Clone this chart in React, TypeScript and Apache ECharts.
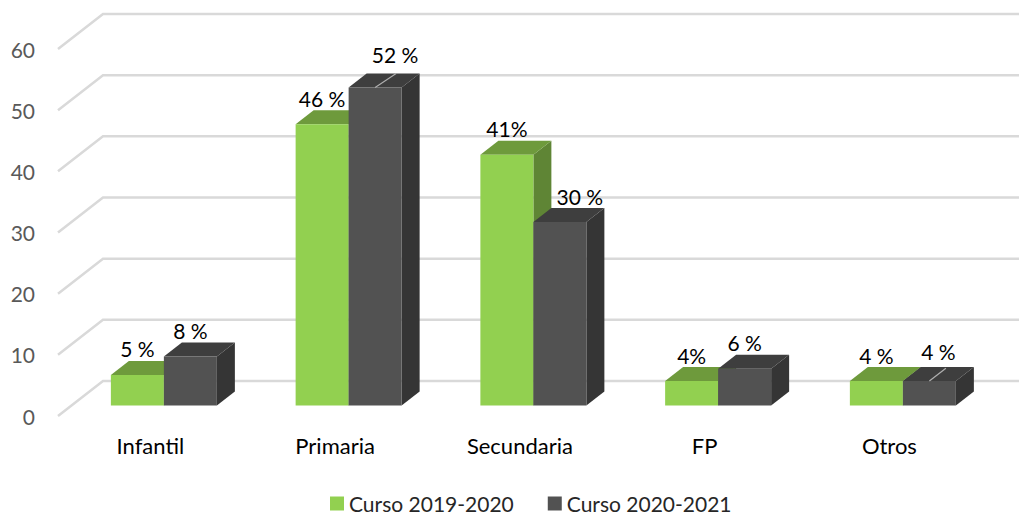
import React, { useEffect, useRef } from "react";
import * as echarts from "echarts";

const categories = ["Infantil", "Primaria", "Secundaria", "FP", "Otros"];
const curso1920 = [5, 46, 41, 4, 4];
const curso2021 = [8, 52, 30, 6, 4];
const labels1920 = ["5 %", "46 %", "41%", "4%", "4 %"];
const labels2021 = ["8 %", "52 %", "30 %", "6 %", "4 %"];
const ticks = [0, 10, 20, 30, 40, 50, 60];
const seriesNames = ["Curso 2019-2020", "Curso 2020-2021"];

const FONT = "Lato, 'Open Sans', sans-serif";
const WALL_DX = 45;
const WALL_DY = -35;
const BAR_DX = 18;
const BAR_DY = -14;
const BAR_OFF_X = 13.5;
const BAR_OFF_Y = -10.5;
const BAR_W = 53;

const poly = (points: number[][], fill: string) => ({
  type: "polygon",
  shape: { points },
  style: { fill, stroke: null },
});

function barRender(
  colors: { front: string; top: string; side: string },
  texts: string[],
  side: number,
  labelOffset: Record<number, [number, number]>,
  leaders: Record<number, [number, number]>,
) {
  return (_: any, api: any) => {
    const i = api.value(0);
    const v = api.value(1);
    const base = api.coord([i, 0]);
    const top = api.coord([i, v]);
    const x0 = base[0] + BAR_OFF_X + (side === 0 ? -BAR_W : 0);
    const x1 = x0 + BAR_W;
    const y0 = base[1] + BAR_OFF_Y;
    const y1 = top[1] + BAR_OFF_Y;
    const off = labelOffset[i] || [0, -26];
    const children: any[] = [
      poly([[x1, y0], [x1 + BAR_DX, y0 + BAR_DY], [x1 + BAR_DX, y1 + BAR_DY], [x1, y1]], colors.side),
      poly([[x0, y1], [x0 + BAR_DX, y1 + BAR_DY], [x1 + BAR_DX, y1 + BAR_DY], [x1, y1]], colors.top),
      poly([[x0, y0], [x1, y0], [x1, y1], [x0, y1]], colors.front),
    ];
    const cx = (x0 + x1) / 2;
    if (leaders[i]) {
      children.push({
        type: "line",
        shape: { x1: cx, y1, x2: cx + leaders[i][0], y2: y1 + leaders[i][1] },
        style: { stroke: "#B0B0B0", lineWidth: 1.2 },
      });
    }
    children.push({
      type: "text",
      x: cx + off[0],
      y: y1 + off[1],
      style: {
        text: texts[i],
        fill: "#000000",
        font: `21px ${FONT}`,
        align: "center",
        verticalAlign: "middle",
      },
    });
    return { type: "group", children };
  };
}

export default function App() {
  const ref = useRef<HTMLDivElement>(null);

  useEffect(() => {
    document.body.style.margin = "0";
    const chart = echarts.init(ref.current!, undefined, { renderer: "svg" });
    chart.setOption({
      animation: false,
      backgroundColor: "#ffffff",
      grid: { left: 58, top: 49, width: 923.75, height: 367 },
      xAxis: {
        type: "category",
        data: categories,
        axisLine: { show: false },
        axisTick: { show: false },
        axisLabel: { color: "#000000", fontFamily: FONT, fontSize: 22, margin: 18, interval: 0 },
      },
      yAxis: {
        type: "value",
        min: 0,
        max: 60,
        interval: 10,
        axisLine: { show: false },
        axisTick: { show: false },
        splitLine: { show: false },
        axisLabel: { color: "#595959", fontFamily: FONT, fontSize: 21, margin: 23, padding: [3, 0, 0, 0] },
      },
      legend: {
        left: 325,
        top: 488,
        itemWidth: 14,
        itemHeight: 14,
        itemGap: 34,
        icon: "rect",
        data: seriesNames,
        textStyle: { color: "#262626", fontFamily: FONT, fontSize: 21 },
      },
      series: [
        {
          type: "custom",
          silent: true,
          data: ticks.map((t) => [0, t]),
          encode: { x: 0, y: 1 },
          z: 1,
          renderItem: (params: any, api: any) => {
            const y = api.coord([0, api.value(1)])[1];
            const left = params.coordSys.x;
            const right = left + params.coordSys.width;
            return {
              type: "polyline",
              shape: {
                points: [
                  [left, y],
                  [left + WALL_DX, y + WALL_DY],
                  [right + WALL_DX, y + WALL_DY],
                ],
              },
              style: { stroke: "#D9D9D9", lineWidth: 2.5, fill: null },
            };
          },
        },
        {
          type: "custom",
          name: seriesNames[0],
          itemStyle: { color: "#92D050" },
          data: curso1920.map((v, i) => [i, v]),
          encode: { x: 0, y: 1 },
          z: 2,
          renderItem: barRender(
            { front: "#92D050", top: "#6E9A3C", side: "#5F8535" },
            labels1920,
            0,
            {},
            {},
          ),
        },
        {
          type: "custom",
          name: seriesNames[1],
          itemStyle: { color: "#525252" },
          data: curso2021.map((v, i) => [i, v]),
          encode: { x: 0, y: 1 },
          z: 3,
          renderItem: barRender(
            { front: "#525252", top: "#3E3E3E", side: "#353535" },
            labels2021,
            1,
            { 1: [20, -33], 2: [20, -26], 4: [9, -30] },
            { 1: [21, -14], 4: [16.5, -12.7] },
          ),
        },
      ],
    });
    return () => chart.dispose();
  }, []);

  return <div ref={ref} style={{ width: 1019, height: 516 }} />;
}
